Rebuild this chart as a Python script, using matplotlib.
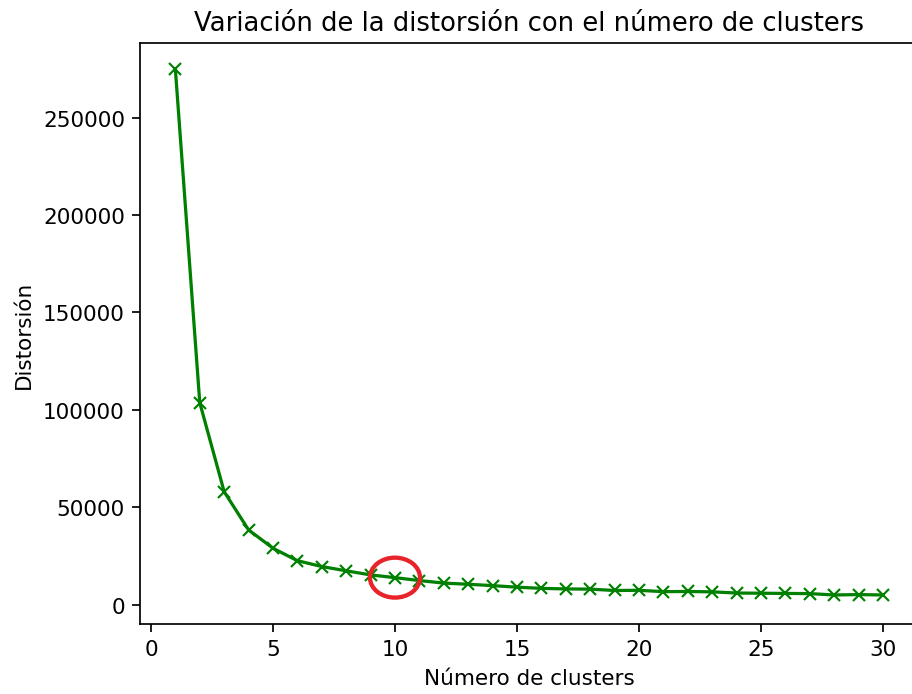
import matplotlib.pyplot as plt
from matplotlib.patches import Ellipse

# numero de clusters y distorsion
clusters = list(range(1, 31))
distorsion = [274700, 103600, 57900, 38300, 28900, 22500, 19500, 17300, 15200, 13800,
              12300, 11000, 10400, 9700, 8900, 8300, 8000, 7900, 7200, 7300,
              6600, 6700, 6500, 5900, 5800, 5700, 5600, 4900, 5100, 4900]
codo_k = 10

DPI = 155
fig = plt.figure(figsize=(912 / DPI, 695 / DPI), dpi=DPI)
# el borde derecho del eje queda fuera de la imagen (recortada)
ax = fig.add_axes([0.1535, 0.1007, 0.8535, 0.836])
ax.spines['right'].set_visible(False)

ax.plot(clusters, distorsion, 'x-', color='green')
ax.add_patch(Ellipse((codo_k, distorsion[codo_k - 1]), width=2.05, height=20500,
                     fill=False, edgecolor='#e8242a', linewidth=2.0, zorder=3))

ax.set_title('Variación de la distorsión con el número de clusters')
ax.set_xlabel('Número de clusters')
ax.set_ylabel('Distorsión')

fig.savefig('out.png', dpi=DPI)
